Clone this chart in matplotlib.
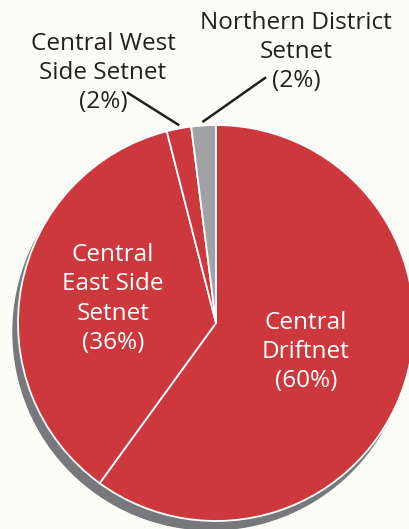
import numpy as np
import matplotlib.pyplot as plt
from matplotlib.patches import Circle

# Share of harvest by fishery
labels = ['Central\nDriftnet\n(60%)',
          'Central\nEast Side\nSetnet\n(36%)',
          'Central West\nSide Setnet\n(2%)',
          'Northern District\nSetnet\n(2%)']
shares = [60, 36, 2, 2]
colors = ['#cc383b', '#cc383b', '#cc383b', '#a1a2a5']

W, H = 409, 529
fig = plt.figure(figsize=(W / 100, H / 100), dpi=100)
fig.patch.set_facecolor('#fdfdf7')
ax = fig.add_axes([0, 0, 1, 1])

cx, cy, r = 216, H - 323, 198

# drop shadow
ax.add_patch(Circle((cx - 5, cy - 9), r, color='#77787b', zorder=0))

wedges, _ = ax.pie(shares, colors=colors, startangle=90, counterclock=False,
                   center=(cx, cy), radius=r, frame=True,
                   wedgeprops=dict(edgecolor='white', linewidth=1.3))
ax.set_xlim(0, W)
ax.set_ylim(0, H)
ax.set_aspect('equal')
ax.axis('off')

font = 'Open Sans'
fs = 17.5
ls = 1.28

# inside labels
ax.text(306, H - 352, labels[0], color='white', ha='center', va='center',
        fontsize=fs, family=font, linespacing=ls)
ax.text(113, H - 299, labels[1], color='white', ha='center', va='center',
        fontsize=fs, family=font, linespacing=ls)

# outside labels with leader lines
for i, (tx, ty) in zip([2, 3], [(103, 73), (296, 52)]):
    w = wedges[i]
    mid = np.deg2rad((w.theta1 + w.theta2) / 2)
    tip = (cx + 1.02 * r * np.cos(mid), cy + 1.02 * r * np.sin(mid))
    ax.text(tx, H - ty, labels[i], color='#231f20', ha='center', va='center',
            fontsize=fs, family=font, linespacing=ls)
    start = (128, H - 93) if i == 2 else (265, H - 78)
    ax.plot([start[0], tip[0]], [start[1], tip[1]], color='#231f20', lw=1.8)

fig.savefig('out.png', dpi=100, facecolor=fig.get_facecolor())
